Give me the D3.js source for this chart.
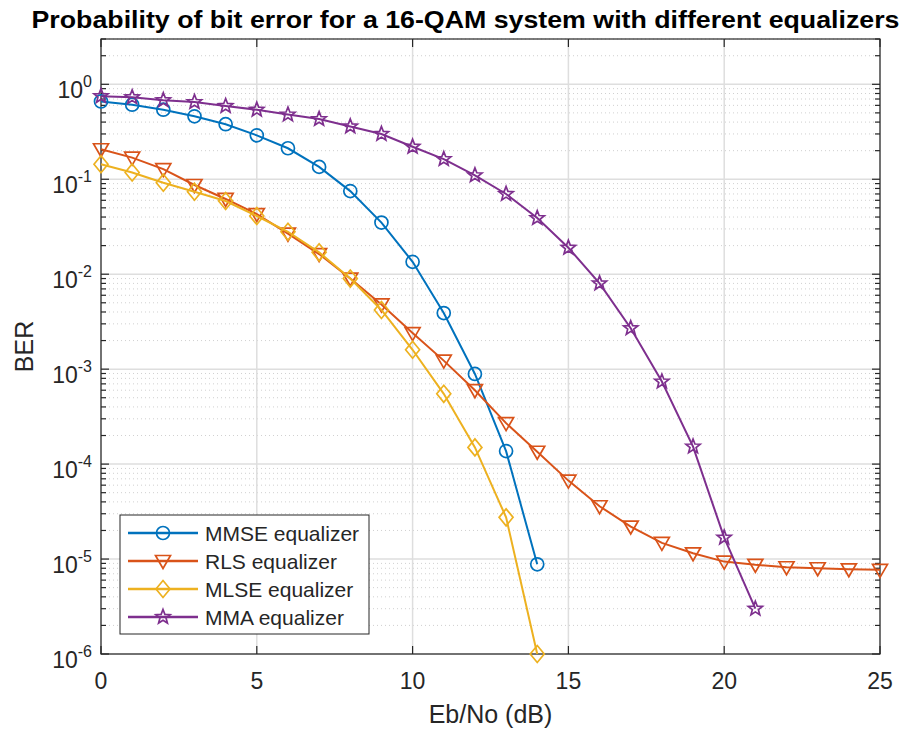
<!DOCTYPE html>
<html>
<head>
<meta charset="utf-8">
<script src="https://cdn.jsdelivr.net/npm/d3@7"></script>
<style>
  body { margin: 0; background: #fff; }
  svg { font-family: "Liberation Sans", Arial, sans-serif; }
</style>
</head>
<body>
<div id="chart-area"><svg></svg></div>
<script>
const CHART_SIZE = { width: 917, height: 731 };
const MARGIN = { left: 101, right: 37, top: 39, bottom: 77 };
const WIDTH = CHART_SIZE.width - (MARGIN.left + MARGIN.right);
const HEIGHT = CHART_SIZE.height - (MARGIN.top + MARGIN.bottom);

const xTicks = [0, 5, 10, 15, 20, 25];
const yDecades = [0, -1, -2, -3, -4, -5, -6];

const ebno = d3.range(0, 26);

const berMMSE = [0.66, 0.61, 0.54, 0.46, 0.38, 0.29, 0.212, 0.135, 0.075, 0.035,
  0.0135, 0.0039, 0.00089, 0.000137, 0.0000088];
const berRLS = [0.207, 0.169, 0.128, 0.087, 0.062, 0.043, 0.0267, 0.0163, 0.009, 0.0048,
  0.0024, 0.00123, 0.0006, 0.00027, 0.000135, 0.000067, 0.000036, 0.000022,
  0.0000148, 0.0000115, 0.0000094, 0.0000087, 0.0000082, 0.000008, 0.0000078, 0.0000077];
const berMLSE = [0.144, 0.118, 0.092, 0.074, 0.059, 0.041, 0.028, 0.017, 0.009, 0.0042,
  0.0016, 0.00055, 0.00015, 0.0000275, 0.000001];
const berMMA = [0.75, 0.73, 0.68, 0.65, 0.59, 0.54, 0.48, 0.43, 0.36, 0.3,
  0.22, 0.163, 0.11, 0.07, 0.039, 0.019, 0.008, 0.0027, 0.00074, 0.000153,
  0.0000168, 0.000003];

const seriesNames = ["MMSE equalizer", "RLS equalizer", "MLSE equalizer", "MMA equalizer"];
const seriesValues = [berMMSE, berRLS, berMLSE, berMMA];
const seriesColors = ["#0072BD", "#D95319", "#EDB120", "#7E2F8E"];
const seriesMarkers = ["circle", "triangle", "diamond", "star"];

const drawMarker = (sel, kind, color) => {
  if (kind === "circle") {
    sel.append("circle").attr("r", 6.5);
  } else if (kind === "triangle") {
    sel.append("path").attr("d", "M-7.5,-5.5L7.5,-5.5L0,7.5Z");
  } else if (kind === "diamond") {
    sel.append("path").attr("d", "M0,-8.5L7,0L0,8.5L-7,0Z");
  } else {
    const pts = d3.range(10).map(i => {
      const r = i % 2 === 0 ? 7.5 : 3.2;
      const a = -Math.PI / 2 + i * Math.PI / 5;
      return [r * Math.cos(a), r * Math.sin(a)];
    });
    sel.append("path").attr("d", "M" + pts.join("L") + "Z");
  }
  sel.selectAll("*")
    .attr("fill", "none")
    .attr("stroke", color)
    .attr("stroke-width", 1.7);
};

const main = () => {
  const svg = d3.select("#chart-area svg")
    .attr("width", CHART_SIZE.width)
    .attr("height", CHART_SIZE.height);

  const g = svg.append("g")
    .attr("transform", `translate(${MARGIN.left},${MARGIN.top})`);

  const x = d3.scaleLinear().domain([0, 25]).range([0, WIDTH]);
  const y = d3.scaleLog().domain([1e-6, 3]).range([HEIGHT, 0]);

  const minorVals = [];
  yDecades.forEach(d => {
    for (let m = 2; m <= 9; m++) {
      const v = m * Math.pow(10, d);
      if (v <= 3) minorVals.push(v);
    }
  });
  const majorVals = yDecades.map(d => Math.pow(10, d));

  // minor grid
  g.append("g").selectAll("line").data(minorVals).join("line")
    .attr("x1", 0).attr("x2", WIDTH)
    .attr("y1", d => y(d)).attr("y2", d => y(d))
    .attr("stroke", "#c4c4c4").attr("stroke-width", 0.8)
    .attr("stroke-dasharray", "1,3");

  // major grid
  g.append("g").selectAll("line").data(majorVals).join("line")
    .attr("x1", 0).attr("x2", WIDTH)
    .attr("y1", d => y(d)).attr("y2", d => y(d))
    .attr("stroke", "#dedede").attr("stroke-width", 1.5);
  g.append("g").selectAll("line").data(xTicks).join("line")
    .attr("x1", d => x(d)).attr("x2", d => x(d))
    .attr("y1", 0).attr("y2", HEIGHT)
    .attr("stroke", "#dedede").attr("stroke-width", 1.5);

  // box and ticks
  const axisCol = "#262626";
  g.append("rect").attr("width", WIDTH).attr("height", HEIGHT)
    .attr("fill", "none").attr("stroke", axisCol).attr("stroke-width", 1.2);

  const ticks = g.append("g").attr("stroke", axisCol).attr("stroke-width", 1.2);
  xTicks.forEach(t => {
    ticks.append("line").attr("x1", x(t)).attr("x2", x(t)).attr("y1", HEIGHT).attr("y2", HEIGHT - 8);
    ticks.append("line").attr("x1", x(t)).attr("x2", x(t)).attr("y1", 0).attr("y2", 8);
  });
  majorVals.forEach(v => {
    ticks.append("line").attr("x1", 0).attr("x2", 8).attr("y1", y(v)).attr("y2", y(v));
    ticks.append("line").attr("x1", WIDTH).attr("x2", WIDTH - 8).attr("y1", y(v)).attr("y2", y(v));
  });
  minorVals.forEach(v => {
    ticks.append("line").attr("x1", 0).attr("x2", 5).attr("y1", y(v)).attr("y2", y(v));
    ticks.append("line").attr("x1", WIDTH).attr("x2", WIDTH - 5).attr("y1", y(v)).attr("y2", y(v));
  });

  // tick labels
  g.append("g").selectAll("text").data(xTicks).join("text")
    .attr("x", d => x(d)).attr("y", HEIGHT + 35)
    .attr("text-anchor", "middle")
    .attr("font-size", 23).attr("fill", axisCol)
    .text(d => d);

  const yl = g.append("g").selectAll("text").data(yDecades).join("text")
    .attr("x", -9).attr("y", d => y(Math.pow(10, d)) + 14)
    .attr("text-anchor", "end")
    .attr("font-size", 23).attr("fill", axisCol);
  yl.append("tspan").text("10");
  yl.append("tspan").attr("dy", -11).attr("font-size", 16).text(d => d);

  // lines and markers
  const line = d3.line().x((d, i) => x(ebno[i])).y(d => y(d));
  seriesValues.forEach((vals, k) => {
    g.append("path")
      .attr("d", line(vals))
      .attr("fill", "none")
      .attr("stroke", seriesColors[k])
      .attr("stroke-width", 2);
    vals.forEach((v, i) => {
      const m = g.append("g").attr("transform", `translate(${x(ebno[i])},${y(v)})`);
      drawMarker(m, seriesMarkers[k], seriesColors[k]);
    });
  });

  // labels
  svg.append("text")
    .attr("x", MARGIN.left + WIDTH / 2 - 25).attr("y", 28)
    .attr("text-anchor", "middle")
    .attr("font-size", 24).attr("font-weight", "bold").attr("fill", "#000")
    .attr("textLength", 868).attr("lengthAdjust", "spacingAndGlyphs")
    .text("Probability of bit error for a 16-QAM system with different equalizers");

  svg.append("text")
    .attr("x", MARGIN.left + WIDTH / 2).attr("y", 723)
    .attr("text-anchor", "middle")
    .attr("font-size", 25).attr("fill", axisCol)
    .text("Eb/No (dB)");

  svg.append("text")
    .attr("transform", `translate(33,${MARGIN.top + HEIGHT / 2}) rotate(-90)`)
    .attr("text-anchor", "middle")
    .attr("font-size", 25).attr("fill", axisCol)
    .text("BER");

  // legend
  const lg = svg.append("g").attr("transform", "translate(120,515)");
  lg.append("rect").attr("width", 249).attr("height", 119)
    .attr("fill", "#fff").attr("stroke", axisCol).attr("stroke-width", 1);
  seriesNames.forEach((name, k) => {
    const yy = 18 + k * 28;
    lg.append("line").attr("x1", 8).attr("x2", 78).attr("y1", yy).attr("y2", yy)
      .attr("stroke", seriesColors[k]).attr("stroke-width", 2.5);
    const m = lg.append("g").attr("transform", `translate(43,${yy})`);
    drawMarker(m, seriesMarkers[k], seriesColors[k]);
    lg.append("text").attr("x", 85).attr("y", yy + 7.5)
      .attr("font-size", 21).attr("fill", axisCol).text(name);
  });
};

window.onload = main;
</script>
</body>
</html>
